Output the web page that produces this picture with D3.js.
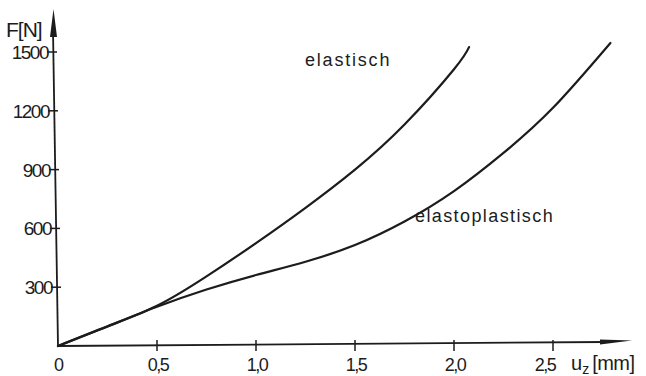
<!DOCTYPE html>
<html>
<head>
<meta charset="utf-8">
<script src="https://cdn.jsdelivr.net/npm/d3@7"></script>
<style>
  body { margin: 0; background: #fff; }
  svg text { font-family: "Liberation Sans", "DejaVu Sans", sans-serif; fill: #1c1c1c; }
</style>
</head>
<body>
<div id="chart"></div>
<script>
// displacement u_z [mm] and force F [N]
const uElastisch = [0, 0.25, 0.5, 0.75, 1.0, 1.25, 1.5, 1.75, 2.0, 2.076];
const fElastisch = [0, 100, 205, 355, 525, 705, 900, 1130, 1412, 1525];
const uPlastisch = [0, 0.25, 0.5, 0.75, 1.0, 1.25, 1.5, 1.75, 2.0, 2.25, 2.5, 2.79];
const fPlastisch = [0, 100, 200, 288, 362, 430, 515, 635, 790, 985, 1215, 1546];

const xTicks = [0.5, 1.0, 1.5, 2.0, 2.5];
const xTickLabels = ["0,5", "1,0", "1,5", "2,0", "2,5"];
const yTicks = [300, 600, 900, 1200, 1500];

const W = 646, H = 376;
const svg = d3.select("#chart").append("svg")
    .attr("width", W)
    .attr("height", H);

const x = d3.scaleLinear().domain([0, 2.5]).range([58, 553]);
const y = d3.scaleLinear().domain([0, 1500]).range([346, 52]);
// the hand drawn y axis leans a little to the left
const axisX = f => 58 - (f / 1500) * 5;

const ink = "#1c1c1c";

// x axis with arrow
svg.append("line")
    .attr("x1", x(0)).attr("y1", y(0))
    .attr("x2", 605).attr("y2", y(0) - 4)
    .attr("stroke", ink).attr("stroke-width", 1.8);
svg.append("path")
    .attr("d", "M600,339.5 L632,340.5 L600,344.5 Z")
    .attr("fill", ink);

// y axis with arrow
svg.append("line")
    .attr("x1", x(0)).attr("y1", y(0))
    .attr("x2", 53).attr("y2", 30)
    .attr("stroke", ink).attr("stroke-width", 1.8);
svg.append("path")
    .attr("d", "M50,37 L53.5,9 L57,37 Z")
    .attr("fill", ink);

// x ticks
const xg = svg.append("g");
xTicks.forEach((t, i) => {
    xg.append("line")
        .attr("x1", x(t)).attr("x2", x(t))
        .attr("y1", y(0) - 6).attr("y2", y(0) + 5)
        .attr("stroke", ink).attr("stroke-width", 1.5);
    xg.append("text")
        .attr("x", x(t) + (t === 2.5 ? -8 : 1)).attr("y", 371)
        .attr("text-anchor", "middle")
        .attr("font-size", 18)
        .attr("letter-spacing", -1.5)
        .text(xTickLabels[i]);
});
xg.append("text")
    .attr("x", x(0) + 1).attr("y", 371)
    .attr("text-anchor", "middle")
    .attr("font-size", 18)
    .text("0");

// y ticks
const yg = svg.append("g");
yTicks.forEach(t => {
    const ax = axisX(t);
    yg.append("line")
        .attr("x1", ax - 6).attr("x2", ax + 4)
        .attr("y1", y(t)).attr("y2", y(t))
        .attr("stroke", ink).attr("stroke-width", 1.5);
    yg.append("text")
        .attr("x", ax - 5).attr("y", y(t) + 7)
        .attr("text-anchor", "end")
        .attr("font-size", 19)
        .attr("letter-spacing", -1.5)
        .text(t);
});

// axis titles
svg.append("text")
    .attr("x", 6).attr("y", 37)
    .attr("font-size", 21)
    .attr("letter-spacing", -1)
    .text("F[N]");

const xt = svg.append("text")
    .attr("x", 571).attr("y", 370)
    .attr("font-size", 20);
xt.append("tspan").text("u");
xt.append("tspan").attr("font-size", 14).attr("dy", 4).text("z");
xt.append("tspan").attr("dy", -4).attr("dx", 3).attr("letter-spacing", -0.5).text("[mm]");

// curves
const line = d3.line()
    .x(d => x(d[0]))
    .y(d => y(d[1]))
    .curve(d3.curveNatural);

svg.append("path")
    .datum(d3.zip(uElastisch, fElastisch))
    .attr("d", line)
    .attr("fill", "none")
    .attr("stroke", ink)
    .attr("stroke-width", 2.2)
    .attr("stroke-linecap", "round");

svg.append("path")
    .datum(d3.zip(uPlastisch, fPlastisch))
    .attr("d", line)
    .attr("fill", "none")
    .attr("stroke", ink)
    .attr("stroke-width", 2.2)
    .attr("stroke-linecap", "round");

// curve labels
svg.append("text")
    .attr("x", 305).attr("y", 66)
    .attr("font-size", 18)
    .attr("letter-spacing", 1.8)
    .text("elastisch");
svg.append("text")
    .attr("x", 415).attr("y", 222)
    .attr("font-size", 18)
    .attr("letter-spacing", 1.4)
    .text("elastoplastisch");
</script>
</body>
</html>
